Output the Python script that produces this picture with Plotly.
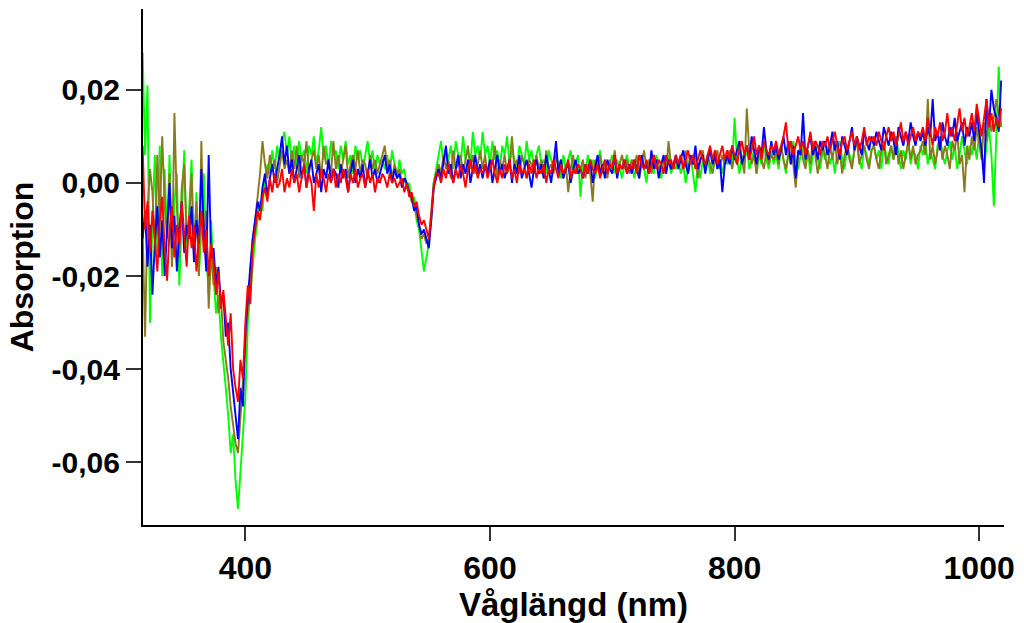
import numpy as np
import plotly.graph_objects as go

# Wavelength grid (nm), 2 nm steps
wavelength_nm = list(range(314, 1019, 2))

# Absorption values, in milli-absorbance units (x 0.001)
red_mA = [
    2, 8, -10, -4, -15, -6, -12, -19, -8, -3, -14, -21, -10, -5, -16, -9, -13, -4, -11, -18,
    -7, -14, -9, -19, -12, -6, -15, -10, -20, -13, -17, -24, -19, -27, -23, -30, -35, -28, -40, -44,
    -47, -38, -42, -30, -22, -26, -14, -10, -6, -8, -3, -1, -4, 1, -2, 2, -1, 0, 3, -2,
    1, -1, 3, 0, 2, -2, 1, 4, -1, 2, 0, -6, 2, -1, 3, 1, -2, 2, 0, 3,
    -1, 2, 0, 3, 1, -2, 2, 0, 3, -1, 1, 2, -1, 3, 0, 2, -2, 1, 0, 2,
    1, -1, 2, 0, 1, -1, 0, 1, -2, 0, -3, -2, -5, -4, -7, -9, -8, -10, -12, -7,
    -1, 2, 2, 0, 3, 1, 4, 2, 0, 3, 1, 4, 2, -1, 3, 5, 2, 4, 1, 3,
    2, 4, 1, 3, 5, 2, 0, 3, 1, 4, 2, 5, 1, 3, 0, 4, 2, 3, 1, 4,
    2, 5, 1, 3, 2, 4, 0, 3, 2, 5, 3, 1, 4, 2, 3, 5, 1, 3, 2, 4,
    3, 1, 4, 2, 5, 3, 2, 4, 1, 3, 5, 2, 4, 3, 6, 2, 4, 3, 5, 2,
    4, 3, 5, 2, 6, 4, 3, 5, 2, 4, 6, 3, 5, 4, 2, 6, 4, 5, 3, 6,
    4, 6, 3, 5, 7, 4, 6, 3, 5, 7, 5, 4, 6, 8, 5, 7, 4, 6, 8, 5,
    7, 5, 8, 6, 4, 7, 9, 6, 8, 5, 7, 10, 6, 8, 5, 9, 7, 6, 8, 7,
    9, 6, 8, 10, 13, 7, 9, 6, 8, 10, 7, 9, 6, 8, 11, 7, 9, 8, 6, 9,
    8, 10, 7, 9, 11, 8, 6, 9, 10, 7, 9, 11, 8, 10, 7, 9, 12, 8, 10, 9,
    10, 8, 11, 9, 7, 10, 12, 9, 11, 8, 10, 13, 9, 11, 8, 10, 12, 9, 11, 10,
    12, 9, 14, 11, 8, 12, 10, 13, 9, 11, 15, 10, 12, 9, 13, 16, 11, 14, 10, 12,
    15, 11, 17, 13, 10, 14, 18, 12, 15, 11, 14, 12, 16,
]

blue_mA = [
    -2, -12, -6, -18, -9, -24, -13, -5, -16, -8, -20, -11, 0, -14, -7, -19, -10, -4, -15, -9,
    -12, -5, -17, -8, -13, 3, -10, -19, 6, -16, -14, -22, -18, -26, -24, -33, -30, -40, -45, -50,
    -55, -44, -48, -32, -24, -18, -12, -8, -4, -6, -1, 2, -3, 1, 4, 0, 3, 6, 10, 4,
    8, 2, 5, 0, 3, 6, 1, 4, -1, 3, 5, 0, 2, 4, -2, 3, 1, 5, 0, 3,
    2, -1, 4, 1, 3, -2, 2, 5, 0, 3, 1, 4, -1, 2, 5, 1, 3, 0, 2, 4,
    6, 2, 4, 0, 3, 1, 2, -1, 1, 0, -2, -3, -6, -5, -9, -11, -10, -12, -14, -8,
    -1, 1, 3, 1, 5, 8, 2, 4, 0, 3, 6, 1, 4, 2, 5, 0, 3, 6, 2, 4,
    1, 4, 2, 5, 0, 3, 6, 2, 4, 1, 3, 5, 0, 4, 2, 6, 1, 3, 5, 2,
    -1, 3, 5, 2, 4, 1, 6, 3, 0, 4, 9, 2, 5, 1, 3, 4, 0, 3, 5, 2,
    3, 1, 4, 2, 5, 0, 3, 6, 2, 4, 1, 5, 3, 2, 6, 1, 4, 3, 5, 2,
    4, 2, 5, 3, 1, 6, 3, 4, 2, 7, 3, 5, 1, 4, 6, 2, 5, 3, 4, 6,
    3, 5, 7, 4, 2, 6, 4, 8, 3, 5, 6, 2, 5, 7, 4, 6, 3, 5, -2, 4,
    6, 4, 8, 5, 7, 9, 4, 6, 8, 5, 10, 7, 4, 8, 6, 12, 7, 5, 9, 6,
    8, 5, 7, 10, 6, 9, 4, 8, 1, 7, 6, 15, 5, 8, 10, 6, 8, 5, 9, 7,
    9, 6, 8, 11, 7, 9, 5, 10, 8, 6, 9, 12, 7, 10, 8, 6, 11, 9, 7, 10,
    8, 11, 9, 7, 12, 10, 8, 11, 9, 6, 12, 10, 8, 11, 9, 13, 10, 8, 11, 9,
    11, 8, 12, 10, 18, 9, 11, 7, 13, 10, 8, 12, 10, 14, 9, 11, 13, 8, 12, 10,
    13, 9, 15, 11, 7, 0, 18, 12, 20, 16, 14, 11, 22,
]

green_mA = [
    20, 28, 6, 21, -30, -8, 6, -15, 8, -20, 3, -12, 6, -18, -4, 2, -22, -9, 7, -14,
    -6, 5, -16, -2, -20, -10, 2, -14, -24, -8, -20, -28, -24, -33, -38, -44, -50, -58, -54, -64,
    -70, -62, -56, -46, -30, -24, -18, -12, -8, -4, -6, 1, 4, 2, 7, 3, 8, 5, 9, 11,
    6, 10, 4, 8, 3, 9, 5, 7, 2, 8, 6, 10, 4, 7, 12, 5, 8, 3, 9, 6,
    7, 3, 8, 5, 9, 4, 6, 2, 8, 5, 7, 3, 6, 9, 4, 7, 2, 6, 4, 5,
    3, 6, 2, 7, 4, 1, 5, 2, 3, -1, 0, -4, -3, -8, -10, -14, -19, -16, -13, -8,
    0, 3, 6, 9, 4, 7, 5, 8, 3, 9, 6, 4, 10, 5, 7, 4, 11, 6, 8, 5,
    11, 6, 8, 4, 9, 5, 7, 3, 8, 6, 10, 4, 7, 5, 2, 8, 6, 4, 9, 5,
    7, 3, 6, 8, 4, 5, 2, 7, 5, 3, 6, 4, 1, 6, 3, 5, 7, 2, 4, 6,
    -3, 4, 2, 6, 3, 5, 1, 4, 7, 3, 5, 2, 4, 6, 2, 5, 3, 1, 4, 6,
    3, 5, 1, 4, 2, 6, 3, 0, 5, 3, 2, 6, 4, 1, 5, 3, 6, 2, 4, 3,
    5, 2, 4, 0, 3, 6, 2, -2, 4, 1, 5, 3, 6, 2, 4, 7, 3, 5, 2, 5,
    4, 7, 3, 14, 5, 2, 6, 4, 8, 3, 5, 7, 2, 6, 4, 8, 5, 3, 7, 4,
    6, 3, 8, 5, 2, 7, 4, 9, 5, 3, 6, 8, 4, 7, 2, 6, 9, 5, 3, 7,
    5, 8, 4, 6, 2, 7, 9, 5, 3, 8, 6, 4, 7, 10, 5, 3, 8, 6, 4, 7,
    8, 5, 7, 3, 9, 6, 4, 8, 5, 10, 6, 3, 7, 5, 9, 4, 7, 6, 3, 8,
    6, 9, 4, 7, 5, 3, 8, 10, 6, 4, 7, 9, 5, 8, 3, 6, 10, 7, 4, 8,
    6, 9, 5, 11, 7, 3, 8, 12, 6, -5, 10, 25, 12,
]

olive_mA = [
    4, -10, -33, -6, 3, -2, -14, 6, -8, 10, -4, -12, 2, -18, 15, -5, -16, -1, 4, -11,
    -8, 2, -15, -4, -20, 9, -12, -6, -27, -15, -22, -18, -28, -24, -34, -38, -42, -48, -52, -56,
    -58, -50, -44, -34, -26, -18, -12, -8, -3, 2, 9, 4, 1, 6, 3, 5, 0, 4, 7, 3,
    5, 2, 7, 3, 8, 1, 6, 4, 9, 2, 5, 7, 3, 6, 1, 8, 4, 5, 2, 9,
    3, 6, 2, 5, 8, 1, 4, 6, 3, 7, 2, 5, 4, 1, 6, 3, 5, 2, 4, 6,
    8, 3, 5, 1, 4, 2, 3, 0, 1, -1, -2, -4, -5, -7, -9, -12, -11, -13, -12, -6,
    0, 2, 4, 2, 6, 3, 5, 1, 7, 3, 4, 6, 2, 5, 8, 3, 6, 2, 4, 7,
    3, 6, 2, 5, 4, 8, 1, 5, 3, 6, 2, 4, 10, 3, 5, 2, 6, 4, 1, 5,
    4, 2, 6, 3, 5, 1, 7, 3, 4, 2, 6, 3, 5, 1, 4, -2, 3, 6, 2, 4,
    3, 5, 1, 4, 2, -4, 5, 3, 6, 2, 4, 1, 5, 3, 7, 2, 4, 6, 3, 5,
    2, 5, 3, 6, 1, 4, 7, 3, 5, 2, 6, 4, 3, 4, 5, 2, 9, 4, 3, 5,
    4, 6, 3, 7, 2, 5, 4, 6, 1, 5, 7, 3, 6, 4, 2, 5, 7, 3, 6, 4,
    5, 7, 3, 6, 4, 8, 5, 2, 16, 7, 4, 6, 2, 8, 5, 3, 7, 4, 6, 5,
    7, 4, 8, 5, 3, 6, 9, 4, -1, 6, 8, 5, 3, 7, 4, 9, 6, 2, 5, 8,
    6, 3, 8, 5, 9, 4, 7, 2, 6, 8, 5, 3, 7, 9, 4, 6, 8, 5, 3, 7,
    8, 5, 3, 7, 9, 4, 6, 8, 5, 10, 4, 7, 3, 6, 9, 5, 8, 4, 6, 7,
    9, 6, 18, 5, 8, 4, 7, 10, 5, 8, 6, 3, 9, 7, 11, 4, 6, -2, 8, 5,
    10, 7, 12, 8, 5, 13, 9, 15, 11, 14, 18, 15, 12,
]

# Axis ticks
x_tick_vals = [400, 600, 800, 1000]
x_tick_text = ["400", "600", "800", "1000"]
y_tick_vals = [-0.06, -0.04, -0.02, 0.0, 0.02]
y_tick_text = ["-0,06", "-0,04", "-0,02", "0,00", "0,02"]

series = [
    ("green", green_mA, "#00ff00"),
    ("olive", olive_mA, "#8a7a1e"),
    ("blue", blue_mA, "#0000ff"),
    ("red", red_mA, "#ff0000"),
]

fig = go.Figure()
for name, vals, color in series:
    assert len(vals) == len(wavelength_nm), (name, len(vals), len(wavelength_nm))
    fig.add_trace(go.Scatter(
        x=wavelength_nm,
        y=np.array(vals) / 1000.0,
        mode="lines",
        name=name,
        line=dict(color=color, width=1.9),
        showlegend=False,
    ))

font_family = "Liberation Sans, Arial, sans-serif"

fig.update_layout(
    width=1024,
    height=623,
    margin=dict(l=143, r=15, t=9, b=97),
    paper_bgcolor="white",
    plot_bgcolor="white",
    font=dict(family=font_family, color="black"),
    xaxis=dict(
        range=[316.3, 1020.3],
        showgrid=False,
        zeroline=False,
        showline=True,
        linecolor="black",
        linewidth=2,
        ticks="outside",
        ticklen=14,
        tickwidth=1.5,
        tickcolor="#333333",
        tickvals=x_tick_vals,
        ticktext=x_tick_text,
        tickfont=dict(size=32, family=font_family, weight="bold"),
        title=dict(text="Våglängd (nm)", font=dict(size=33, family=font_family, weight="bold"), standoff=4),
    ),
    yaxis=dict(
        range=[-0.07346, 0.03736],
        showgrid=False,
        zeroline=False,
        showline=True,
        linecolor="black",
        linewidth=2,
        ticks="outside",
        ticklen=15,
        tickwidth=1.5,
        tickcolor="#333333",
        tickvals=y_tick_vals,
        ticktext=y_tick_text,
        tickfont=dict(size=30, family=font_family, weight="bold"),
        title=dict(text="Absorption", font=dict(size=32, family=font_family, weight="bold"), standoff=8),
    ),
)

fig.write_html("out.html")
